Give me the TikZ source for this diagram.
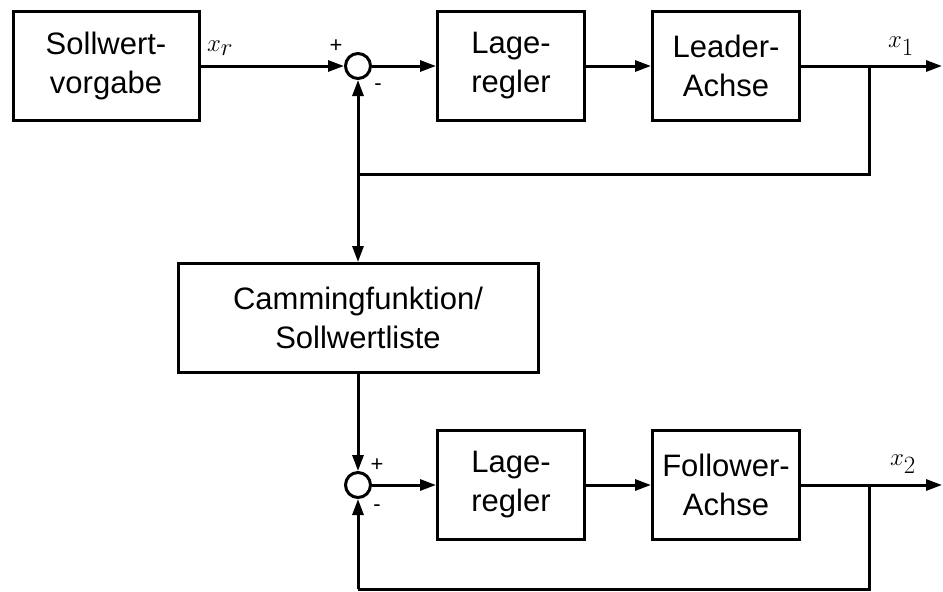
\documentclass[tikz,border=0pt]{standalone}
\usepackage{amsmath}
\usepackage{fontspec}
\setmainfont{Liberation Sans}
\usetikzlibrary{arrows.meta}

\begin{document}
\begin{tikzpicture}[x=1pt, y=-1pt, line width=3pt, >={Triangle[length=16pt,width=11pt]},
    block/.style={draw, minimum width=147pt, minimum height=109pt, align=center,
        inner sep=0pt, font=\fontsize{31}{39}\selectfont},
    sumnode/.style={draw, circle, minimum size=25pt, inner sep=0pt},
    sign/.style={inner sep=0pt, font=\fontsize{22}{22}\selectfont},
    sig/.style={inner sep=0pt, font=\fontsize{35}{35}\selectfont}]
    \useasboundingbox (0,0) rectangle (943,592);
    % Leader
    \node[block, minimum width=186pt] (soll) at (106,66) {Sollwert-\\vorgabe};
    \node[sumnode] (sum1) at (358,66) {};
    \node[block] (lr1) at (511,66) {Lage-\\regler};
    \node[block] (leader) at (726,66) {Leader-\\Achse};
    \coordinate (out1) at (942,66);
    \coordinate (b1) at (869,66);
    \coordinate (j1) at (358,174);
    \node[sig] (xr) at (220,48) {$x_r$};
    \node[sig] (x1) at (901,46) {$x_1$};
    \node[sign] (p1) at (336,46) {+};
    \node[sign] (m1) at (378,87) {-};
    \draw[->] (soll) -- (sum1);
    \draw[->] (sum1) -- (lr1);
    \draw[->] (lr1) -- (leader);
    \draw[->] (leader) -- (out1);
    \draw (b1) |- (j1);
    \draw[->] (j1) -- (sum1);
    % Camming
    \node[block, minimum width=360pt] (cam) at (358,318) {Cammingfunktion/\\Sollwertliste};
    \draw[->] (j1) -- (cam);
    % Follower
    \node[sumnode] (sum2) at (358,485) {};
    \node[block] (lr2) at (511,485) {Lage-\\regler};
    \node[block] (follower) at (726,485) {Follower-\\Achse};
    \coordinate (out2) at (942,485);
    \coordinate (b2) at (869,485);
    \coordinate (j2) at (358,589);
    \node[sig] (x2) at (903,464) {$x_2$};
    \node[sign] (p2) at (377,465) {+};
    \node[sign] (m2) at (377,508) {-};
    \draw[->] (cam) -- (sum2);
    \draw[->] (sum2) -- (lr2);
    \draw[->] (lr2) -- (follower);
    \draw[->] (follower) -- (out2);
    \draw (b2) |- (j2);
    \draw[->] (j2) -- (sum2);
\end{tikzpicture}
\end{document}
